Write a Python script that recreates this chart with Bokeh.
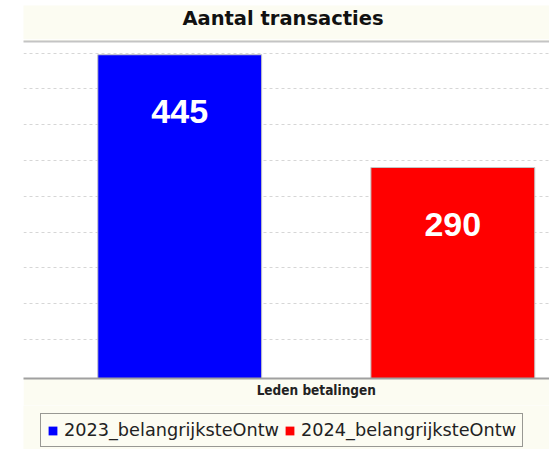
from bokeh.plotting import figure
from bokeh.models import Range1d, FixedTicker, LinearAxis, ColumnDataSource, Label
from bokeh.layouts import column
from bokeh.core.properties import value
from bokeh.embed import file_html
from bokeh.resources import INLINE

# ---- data ----
title_text = "Aantal transacties"
category = "Leden betalingen"
series = ["2023_belangrijksteOntw", "2024_belangrijksteOntw"]
counts = [445, 290]
colors = ["#0000ff", "#ff0000"]
labels = [str(v) for v in counts]

BAND = "#fcfcf2"

xpos = [i + 0.5 for i in range(len(series))]
group_center = len(series) / 2

src = ColumnDataSource(dict(x=xpos, top=counts, series=series, color=colors, label=labels))

# ---------------- title strip ----------------
t = figure(width=526, height=34, output_backend="svg", toolbar_location=None,
           x_range=Range1d(0, 1), y_range=Range1d(0, 1),
           x_axis_location=None, y_axis_location=None)
t.margin = (5, 0, 0, 23)
t.min_border = 0
t.border_fill_color = BAND
t.background_fill_color = BAND
t.outline_line_color = None
t.xgrid.visible = False
t.ygrid.visible = False
t.add_layout(Label(x=259.5, y=21.5, x_units="screen", y_units="screen",
                   text=title_text, text_font="DejaVu Sans", text_font_size="19.5px",
                   text_font_style="bold", text_color="#111111",
                   text_align="center", text_baseline="middle"))

# ---------------- main chart ----------------
p = figure(width=526, height=366, output_backend="svg", toolbar_location=None,
           x_range=Range1d(-0.072, 1.854), y_range=Range1d(0, 463.2),
           y_axis_location=None)
p.margin = (0, 0, 0, 23)
p.min_border_left = 0
p.min_border_right = 0
p.min_border_top = 2
p.min_border_bottom = 27
p.border_fill_color = BAND
p.background_fill_color = "white"
p.outline_line_color = None

# grid
grid_step = 49.17
grid_top = 447.1
p.ygrid.ticker = FixedTicker(ticks=[grid_top - grid_step * i for i in range(9)])
p.ygrid.grid_line_color = "#d6d6d6"
p.ygrid.grid_line_dash = "3 3"
p.xgrid.visible = False

# bars
p.vbar(x="x", top="top", width=0.6, bottom=0, source=src, fill_color="color",
       line_color="#c4c4c4", line_width=1)

p.text(x="x", y="top", text="label", source=src, text_color="white",
       text_font=value("Liberation Sans"), text_font_style="bold",
       text_font_size="34px", text_align="center", text_baseline="middle",
       y_offset=57)

# bottom axis with category label
xa = p.xaxis[0]
xa.ticker = FixedTicker(ticks=[group_center])
xa.major_label_overrides = {group_center: category}
xa.major_tick_line_color = None
xa.minor_tick_line_color = None
xa.major_tick_out = 0
xa.major_tick_in = 0
xa.minor_tick_out = 0
xa.axis_line_color = "#a0a0a0"
xa.axis_line_width = 2
xa.major_label_text_font = "DejaVu Sans Condensed"
xa.major_label_text_font_style = "bold"
xa.major_label_text_font_size = "13.5px"
xa.major_label_text_color = "#222222"
xa.major_label_standoff = 3

# top border line of the frame
top_ax = LinearAxis(ticker=FixedTicker(ticks=[]), major_label_text_font_size="0px",
                    major_tick_line_color=None, minor_tick_line_color=None,
                    major_tick_out=0, minor_tick_out=0, major_label_standoff=0,
                    axis_line_color="#c4c4c4", axis_line_width=2)
p.add_layout(top_ax, "above")

# ---------------- legend strip ----------------
q = figure(width=526, height=44, output_backend="svg", toolbar_location=None,
           x_range=p.x_range, y_range=Range1d(1000, 1001),
           x_axis_location=None, y_axis_location=None)
q.margin = (0, 0, 0, 23)
q.min_border = 0
q.border_fill_color = BAND
q.background_fill_color = BAND
q.outline_line_color = None
q.xgrid.visible = False
q.ygrid.visible = False
q.vbar(x="x", top="top", width=0.6, bottom=0, source=src, fill_color="color",
       line_color=None, legend_field="series")

lg = q.legend[0]
lg.orientation = "horizontal"
lg.location = (17, 2)
lg.margin = 0
lg.padding = 6
lg.spacing = 5
lg.glyph_width = 11
lg.glyph_height = 11
lg.label_standoff = 6
lg.label_text_font = "DejaVu Sans"
lg.label_text_font_size = "17.7px"
lg.label_text_color = "#222222"
lg.border_line_color = "#333333"
lg.border_line_width = 1
lg.background_fill_color = BAND
lg.background_fill_alpha = 1.0

layout = column(t, p, q, spacing=0)
open("out.html", "w").write(file_html(layout, INLINE))
